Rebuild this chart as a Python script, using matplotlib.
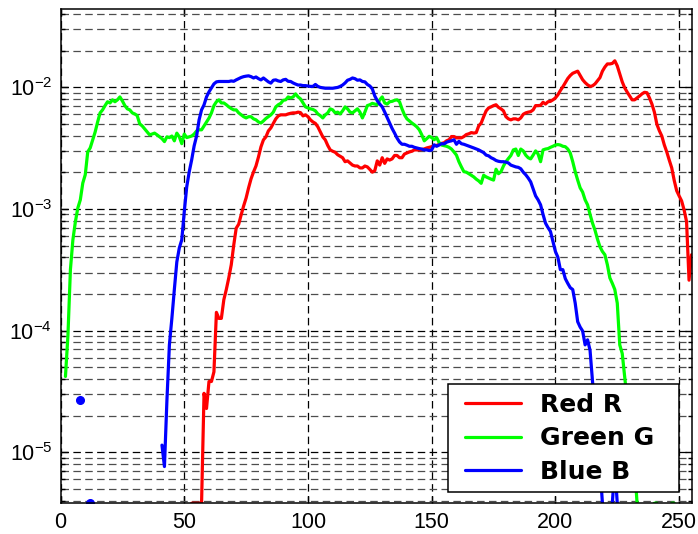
import numpy as np
import matplotlib
matplotlib.use("Agg")
import matplotlib.pyplot as plt
from matplotlib.ticker import LogLocator, NullFormatter
from matplotlib.legend_handler import HandlerLine2D

plt.rcParams['font.family'] = ['Liberation Sans', 'DejaVu Sans']
plt.rcParams['mathtext.fontset'] = 'custom'
plt.rcParams['mathtext.rm'] = 'Liberation Sans'
plt.rcParams['axes.unicode_minus'] = False

# histogram counts of a 512x512 image, one value per grey level 0..255
n_pixels = 512 * 512
levels = np.arange(256)

red_counts = ([0] * 53 + [1, 1, 1, 1, 1,
    8, 6, 10, 10, 12, 37, 33, 33, 47, 57, 71, 91, 132, 182, 196, 234, 277, 322,
    390, 463, 527, 591, 700, 847, 967, 1023, 1146, 1213, 1321, 1439, 1522, 1553, 1553,
    1553, 1580, 1600, 1612, 1612, 1635, 1620, 1522, 1553, 1500, 1413, 1358, 1321, 1237,
    1124, 1023, 967, 870, 800, 780, 765, 730, 710, 690, 640, 650, 625, 600, 590, 590,
    569, 569, 590, 580, 553, 525, 540, 650, 600, 690, 620, 675, 660, 675, 720, 720,
    690, 690, 740, 755, 770, 780, 800, 800, 800, 805, 815, 830, 840, 850, 870, 870,
    890, 905, 915, 950, 970, 1030, 1030, 1005, 1005, 1005, 1030, 1070, 1085, 1110, 1100,
    1110, 1260, 1330, 1500, 1675, 1770, 1806, 1850, 1880, 1790, 1740, 1675, 1500,
    1440, 1413, 1440, 1440, 1413, 1465, 1570, 1612, 1635, 1650, 1706, 1850, 1850, 1860,
    1970, 1905, 1990, 2005, 2063, 2140, 2270, 2460, 2640, 2860, 3090, 3270, 3410, 3480,
    3550, 3270, 3020, 2860, 2740, 2660, 2690, 2790, 2960, 3140, 3550, 3840, 4070, 4070,
    4110, 4320, 3920, 3360, 2900, 2590, 2390, 2220, 2063, 2063, 2140, 2220, 2310, 2380,
    2360, 2140, 1905, 1635, 1300, 1150, 1040, 880, 770, 660, 570, 450, 370, 335, 305,
    257, 206, 68, 110])

green_counts = ([0, 0,
    11, 24, 83, 146, 205, 267, 311, 427, 500, 771, 831, 967, 1124, 1358, 1612, 1706,
    1850, 1990, 1945, 2063, 1990, 2063, 2180, 2020, 1850, 1740, 1706, 1612, 1580, 1530,
    1310, 1260, 1190, 1124, 1064, 1080, 1099, 1064, 1025, 990, 936, 1025, 1010, 1040,
    950, 1099, 1025, 900, 1080, 1010, 1025, 1040, 1080, 1145, 1170, 1170, 1260, 1358,
    1460, 1612, 1850, 1990, 2063, 1945,
    1945, 1880, 1806, 1750, 1706, 1706, 1612, 1553, 1500, 1465, 1500, 1500, 1440, 1413,
    1358, 1330, 1385, 1450, 1500, 1553, 1635, 1806, 1880, 1930, 2045, 2063, 2180, 2140,
    2180, 2310, 2180, 2100, 1945, 1806, 1770, 1740, 1720, 1675, 1580, 1530, 1465, 1553,
    1612, 1740, 1706, 1612, 1635, 1580, 1675, 1806, 1740, 1635, 1612, 1675, 1740,
    1635, 1465, 1635, 1850, 1880, 1930, 1905, 1880, 2063, 2180, 1945, 1905, 1990, 2005,
    2045, 2063, 1990, 1740, 1553, 1440, 1385, 1330, 1286, 1237, 1170, 1064, 950, 990,
    1035, 1010, 970, 1010, 920, 877, 866, 857, 840, 813, 770, 725, 640, 580, 530, 525,
    510, 495, 480, 460, 445, 425, 495, 480, 470, 460, 452, 555, 510, 530, 590, 640, 680,
    720, 800, 813, 720, 813, 785, 725, 690, 675, 725, 785, 740, 640, 800, 813, 820, 840,
    857, 877, 885, 877, 857, 850, 813, 755, 640, 530, 452, 390, 360, 311, 283, 236, 200,
    175, 148, 128, 117, 110, 91, 71, 64, 57, 44, 20, 17, 11, 7, 4, 3, 2, 1]
    + [0] * 6 + [1, 1] + [0] * 5 + [1, 1] + [0] * 7)

blue_counts = ([0] * 8 + [7] + [0] * 3 + [1] + [0] * 28 + [3, 2,
    7, 20, 33, 57, 96, 125, 146, 247, 397, 527, 662, 863, 1042, 1412, 1706, 1876, 2181,
    2400, 2588, 2790, 2898, 2920, 2920, 2920, 2920, 2920, 2950, 2930, 3010, 3080, 3150,
    3200, 3230, 3250, 3200, 3120, 3180, 3080, 3010, 3120, 3010, 2900, 2830, 2990, 3010,
    2950, 2920, 3010, 3040, 2930, 2920, 2840, 2780, 2730, 2730, 2700, 2700, 2680, 2660,
    2660, 2760, 2660, 2610, 2590, 2570, 2570, 2570, 2570, 2590, 2610, 2660, 2730, 2840,
    2990, 3040, 3120, 3080, 2990, 3010, 2920, 2900, 2760, 2680, 2540, 2220, 2030, 1905,
    1806, 1640, 1480, 1330, 1200, 1100, 1000, 930, 890, 890, 875, 857, 857, 840, 830,
    820, 813, 800, 800, 790, 800, 880, 857, 877, 900, 895, 925, 940, 950, 970, 890, 940,
    900, 890, 875, 860, 845, 830, 815, 800, 780, 760, 725, 715, 690, 675, 655, 645, 640,
    640, 635, 625, 600, 590, 580, 575, 560, 525, 500, 470, 437, 383, 335, 311, 283, 236,
    200, 184, 171, 142, 117, 105, 83, 83, 70, 64, 59, 57, 44, 31, 28, 26, 20, 22, 18,
    10, 6, 4, 2, 1] + [0] * 3 + [1, 2, 1] + [0] * 30)

series = [("Red R", red_counts, "#ff0000"),
          ("Green G", green_counts, "#00ff00"),
          ("Blue B", blue_counts, "#0000ff")]

fig = plt.figure(figsize=(6.98, 5.34), dpi=100)
ax = fig.add_axes([0.0867, 0.0577, 0.904, 0.925])

for name, counts, color in series:
    c = np.array(counts, dtype=float)
    p = np.where(c > 0, c / n_pixels, np.nan)
    ax.plot(levels, p, color=color, lw=2.3, label=name, solid_capstyle='round',
            solid_joinstyle='round')
    # single non-zero bins between empty ones show up as dots
    prev = np.r_[np.nan, p[:-1]]
    nxt = np.r_[p[1:], np.nan]
    lone = ~np.isnan(p) & np.isnan(prev) & np.isnan(nxt)
    ax.plot(levels[lone], p[lone], 'o', color=color, ms=5.5, mec=color)

ax.set_yscale('log')
ax.set_xlim(0, 255)
ax.set_ylim(1 / n_pixels, 0.0437)
ax.set_xticks([0, 50, 100, 150, 200, 250])
ax.yaxis.set_major_locator(LogLocator(base=10, numticks=10))
ax.yaxis.set_minor_locator(LogLocator(base=10, subs=np.arange(2, 10), numticks=20))
ax.yaxis.set_minor_formatter(NullFormatter())

ax.set_axisbelow(True)
ax.grid(True, which='major', color='k', lw=0.9, ls=(0, (6, 3.5)))
ax.grid(True, which='minor', axis='y', color='0.3', lw=0.9, ls=(0, (6, 3.5)))

ax.tick_params(which='both', direction='in', top=True, right=True, labelsize=15.5,
               width=1)
ax.tick_params(which='major', length=5, pad=6)
ax.tick_params(which='minor', length=3)
for s in ax.spines.values():
    s.set_linewidth(1.1)

leg = ax.legend(loc='lower left', bbox_to_anchor=(0.6141, 0.0217, 0.3661, 0.22),
                mode='expand', borderaxespad=0, fancybox=False, framealpha=1,
                edgecolor='k', prop={'family': 'DejaVu Sans', 'weight': 'bold', 'size': 18},
                handlelength=2.58, handletextpad=0.74, labelspacing=0.37, borderpad=0.35,
                handler_map={plt.Line2D: HandlerLine2D(xpad=0.32)})
leg.get_frame().set_linewidth(1.1)

fig.savefig("out.png", dpi=100)
